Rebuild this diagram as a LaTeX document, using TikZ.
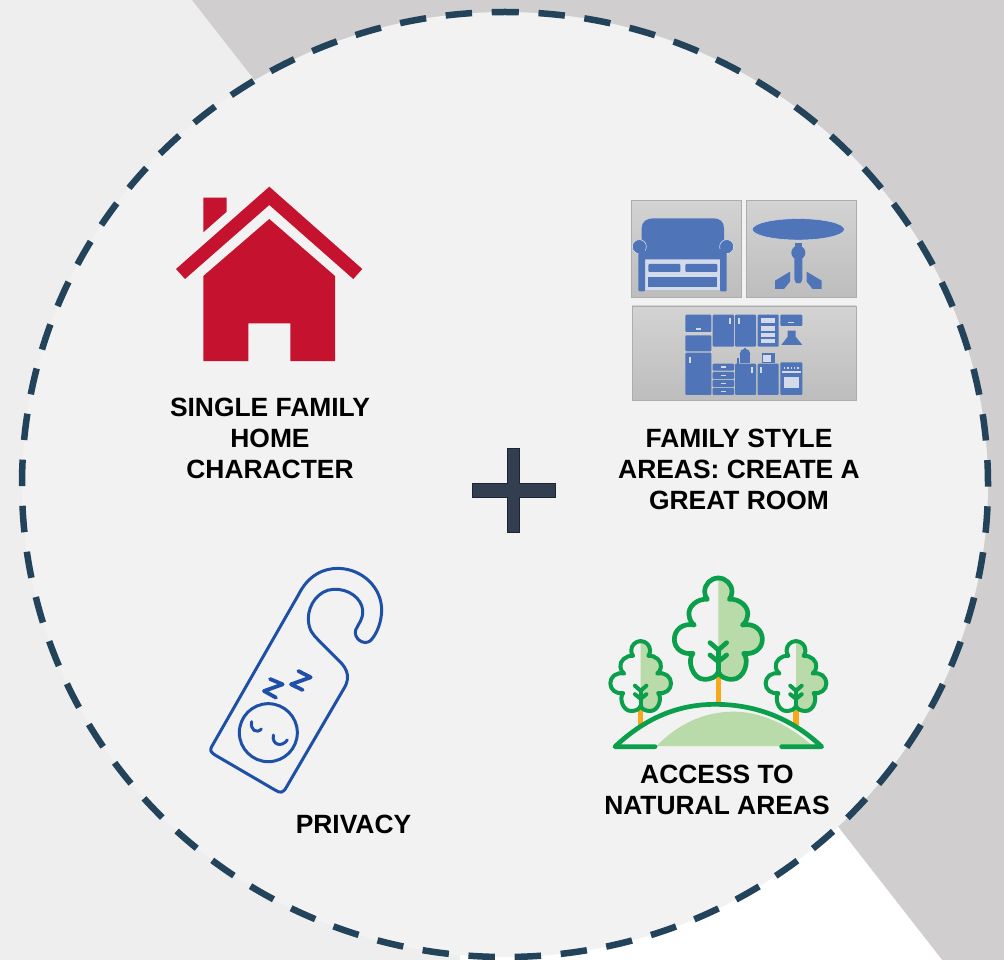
\documentclass[tikz,border=0pt]{standalone}
\usepackage{fontspec}
\setmainfont{Liberation Sans}
\definecolor{bgleft}{HTML}{EEEEEE}
\definecolor{bggray}{HTML}{D0CECE}
\definecolor{disc}{HTML}{F2F2F2}
\definecolor{ringc}{HTML}{23435B}
\definecolor{housered}{HTML}{C4122F}
\definecolor{furn}{HTML}{4F74B8}
\definecolor{furnl}{HTML}{D3DBEA}
\definecolor{plusc}{HTML}{333F50}
\definecolor{pluse}{HTML}{1E2530}
\definecolor{treeg}{HTML}{0B9F4B}
\definecolor{treel}{HTML}{B9DAA9}
\definecolor{trunkc}{HTML}{F7A81B}
\definecolor{hangerc}{HTML}{1F50A8}
\definecolor{paneltop}{HTML}{D3D3D3}
\definecolor{panelbot}{HTML}{BDBDBD}
\definecolor{paneledge}{HTML}{ADADAD}
% right half of a tree outline, from the top down to the stem
\newcommand\halftree{
  (0,-146) .. controls (22.5,-146) and (41,-127.5) .. (41,-105)
  .. controls (41,-96) and (38,-88) .. (33,-82)
  .. controls (65,-85) and (92,-58) .. (88,-35)
  .. controls (86,-20) and (80,-10) .. (72,-5)
  .. controls (108,-12) and (132,10) .. (132,38)
  .. controls (132,65) and (108,85) .. (76,80)
  .. controls (95,100) and (78,158) .. (42,158)
  .. controls (20,158) and (5,150) .. (0,135)
}
% #1 x, #2 y, #3 scale, #4 line width
\newcommand\mytree[4]{
  \begin{scope}[shift={(#1,#2)},scale=#3]
    \fill[treel] \halftree -- cycle;
    \begin{scope}[draw=treeg,line width=#4,line cap=round,line join=round]
      \draw \halftree;
      \begin{scope}[xscale=-1]
        \draw \halftree;
      \end{scope}
      \draw (-25,48) -- (0,70) -- (25,48);
      \draw (-25,85) -- (0,105) -- (25,85);
      \draw (0,70) -- (0,140);
    \end{scope}
  \end{scope}
}
\tikzset{
  lab/.style={font=\fontsize{26.4}{31}\selectfont\bfseries,align=center,text=black,inner sep=0pt},
  panel/.style={top color=paneltop,bottom color=panelbot,draw=paneledge,line width=0.8pt},
  blue/.style={fill=furn,rounded corners=1pt},
  lite/.style={fill=furnl}
}
\begin{document}
\begin{tikzpicture}[x=1pt,y=-1pt]
\useasboundingbox (0,0) rectangle (1004,960);
\clip (0,0) rectangle (1004,960);
% background
\fill[bgleft] (0,0) rectangle (1004,960);
\fill[bggray] (192,0) -- (1004,0) -- (1004,960) -- (942,960) -- (700,650) -- (400,266) -- cycle;
\fill[white] (460,960) -- (460,700) -- (700,650) -- (942,960) -- cycle;
% disc and dashed ring
\fill[disc] (505,484.5) ellipse[x radius=483pt,y radius=472.5pt];
\draw[ringc,line width=6.5pt,dash pattern=on 26.5pt off 19.68pt,dash phase=13.2pt]
  (505,12) arc[start angle=90,end angle=450,x radius=483pt,y radius=472.5pt];
% house
\fill[housered] (269.3,186.7) -- (362.3,269) -- (353.3,279) -- (269.3,205) -- (185,279) -- (176,269) -- cycle;
\fill[housered] (203.3,197.7) -- (226.7,197.7) -- (226.7,211.7) -- (203.3,232.3) -- cycle;
\fill[housered] (269.3,219) -- (335,276) -- (335,361) -- (290.3,361) -- (290.3,323.3) -- (248.3,323.3) -- (248.3,361) -- (203.3,361) -- (203.3,276) -- cycle;
% furniture
\begin{scope}[shift={(600,180)},scale=1/3]
  \shade[panel] (93,62) rectangle (423,352);
  \shade[panel] (440,62) rectangle (768,352);
  \shade[panel] (96,378) rectangle (768,662);
  % sofa
  \fill[furnl] (135,232) rectangle (362,330);
  \fill[furn] (125,238) -- (125,145) .. controls (125,125) and (140,115) .. (160,115) -- (340,115) .. controls (360,115) and (372,125) .. (372,145) -- (372,238) -- cycle;
  \fill[blue] (145,252) rectangle (241,276);
  \fill[blue] (256,252) rectangle (352,276);
  \fill[furn] (145,292) rectangle (352,322);
  \foreach \ax/\px in {118/125, 380/370}{
    \fill[furn,draw=furnl,line width=0.7pt] (\ax,200) circle[radius=21];
    \fill[furn,rounded corners=1pt] (\px-10,205) rectangle (\px+10,334);
    \fill[furn] (\ax,200) circle[radius=19];
  }
  % table
  \fill[furn,draw=furnl,line width=0.4pt] (595,148) ellipse[x radius=138,y radius=32];
  \fill[furn] (584,190) rectangle (606,205);
  \fill[furn] (595,218) circle[radius=21];
  \fill[furn,rounded corners=3pt] (583,225) -- (607,225) -- (607,305) -- (595,313) -- (583,305) -- cycle;
  \fill[furn] (570,275) -- (570,305) -- (552,327) -- (525,327) -- (525,302) -- (545,290) -- cycle;
  \fill[furn] (620,275) -- (620,305) -- (638,327) -- (665,327) -- (665,302) -- (645,290) -- cycle;
  % kitchen
  \fill[blue] (256,404) rectangle (334,456);
  \fill[blue] (256,466) rectangle (334,514);
  \fill[blue] (256,518) rectangle (334,645);
  \fill[blue] (338,404) rectangle (402,500);
  \fill[blue] (405,404) rectangle (468,500);
  \fill[blue] (473,404) rectangle (536,500);
  \fill[blue] (541,404) rectangle (607,438);
  \fill[blue] (338,551) rectangle (402,572);
  \fill[blue] (338,576) rectangle (402,597);
  \fill[blue] (338,600) rectangle (402,621);
  \fill[blue] (338,624) rectangle (402,645);
  \fill[blue] (405,551) rectangle (468,645);
  \fill[blue] (473,551) rectangle (536,645);
  \fill[blue] (541,547) rectangle (607,645);
  \fill[furn] (563,452) -- (587,452) -- (587,470) -- (607,495) -- (544,495) -- (563,470) -- cycle;
  \fill[lite] (287,443) rectangle (303,449);
  \fill[lite] (266,530) rectangle (272,550);
  \fill[lite] (388,415) rectangle (393,432);
  \fill[lite] (414,415) rectangle (419,432);
  \fill[lite] (565,425) rectangle (581,430);
  \fill[lite] (483,415) rectangle (526,430);
  \fill[lite] (483,438) rectangle (526,453);
  \fill[lite] (483,458) rectangle (526,471);
  \fill[lite] (483,476) rectangle (526,489);
  \foreach \yy in {559,584,608,632}{\fill[lite] (362,\yy) rectangle (378,\yy+4);}
  \fill[lite] (454,562) rectangle (459,580);
  \fill[lite] (481,562) rectangle (486,580);
  \fill[lite] (546,572) rectangle (602,578);
  \foreach \xx in {552,562,572,582,592}{\fill[lite] (\xx,562) rectangle (\xx+4,567);}
  \fill[lite] (551,590) rectangle (597,625);
  % kettle and microwave
  \fill[furn] (435,522) circle[radius=16];
  \fill[furn] (420,525) rectangle (450,550);
  \fill[furn] (431,505) rectangle (439,512);
  \fill[furn] (410,535) rectangle (418,551);
  \fill[furn] (485,520) rectangle (525,550);
  \fill[lite] (490,525) rectangle (512,545);
\end{scope}
% plus
\filldraw[fill=plusc,draw=pluse,line width=0.8pt]
  (507.3,448.3) -- (519.7,448.3) -- (519.7,483.3) -- (555,483.3) -- (555,497.3) -- (519.7,497.3)
  -- (519.7,532.7) -- (507.3,532.7) -- (507.3,497.3) -- (472,497.3) -- (472,483.3) -- (507.3,483.3) -- cycle;
% trees
\begin{scope}[shift={(590,560)},scale=1/3]
  \draw[trunkc,line width=5.3pt] (385,345) -- (385,432);
  \draw[trunkc,line width=5.3pt] (152,450) -- (152,495);
  \draw[trunkc,line width=5.3pt] (618,450) -- (618,495);
  \fill[treel] (200,558) .. controls (260,495) and (340,455) .. (430,455) .. controls (510,455) and (590,490) .. (665,555) -- (665,558) -- cycle;
  \mytree{385}{200}{1}{4.7pt}
  \mytree{152}{344}{0.69}{4pt}
  \mytree{618}{344}{0.69}{4pt}
  \draw[treeg,line width=4.7pt,line cap=round,line join=round]
    (195,560) -- (75,560) .. controls (170,470) and (270,433) .. (375,433) .. controls (490,433) and (600,470) .. (695,560) -- (575,560);
\end{scope}
% door hanger
\begin{scope}[shift={(190,555)},scale=1/3]
  \draw[hangerc,line width=3pt,line join=round,line cap=round]
    (65,575) -- (325,120) .. controls (355,60) and (400,40) .. (445,40)
    .. controls (520,42) and (575,100) .. (575,165)
    .. controls (575,200) and (560,240) .. (540,258)
    .. controls (520,272) and (490,250) .. (497,225)
    .. controls (505,205) and (520,195) .. (518,165)
    .. controls (515,130) and (475,100) .. (430,103)
    .. controls (385,105) and (355,150) .. (355,190)
    .. controls (355,225) and (370,240) .. (385,255)
    -- (450,320) .. controls (475,345) and (478,370) .. (465,395)
    -- (290,695) .. controls (280,715) and (270,715) .. (255,705)
    -- (75,600) .. controls (60,590) and (60,585) .. (65,575) -- cycle;
  \draw[hangerc,line width=3pt] (235,533) circle[radius=87];
  \draw[hangerc,line width=3pt,line cap=round] (185,500) .. controls (180,525) and (200,537) .. (214,522);
  \draw[hangerc,line width=3pt,line cap=round] (250,540) .. controls (245,570) and (275,578) .. (292,555);
  \draw[hangerc,line width=3.8pt,line cap=round,line join=round] (240,372) -- (278,388) -- (222,408) -- (258,428);
  \draw[hangerc,line width=3.8pt,line cap=round,line join=round] (325,348) -- (362,367) -- (303,388) -- (338,405);
\end{scope}
% labels
\node[lab] (home) at (270,438.7) {SINGLE FAMILY\\HOME\\CHARACTER};
\node[lab] (great) at (739,469.7) {FAMILY STYLE\\AREAS: CREATE A\\GREAT ROOM};
\node[lab] (nature) at (717,790.3) {ACCESS TO\\NATURAL AREAS};
\node[lab] (privacy) at (353.5,824.7) {PRIVACY};
\end{tikzpicture}
\end{document}
